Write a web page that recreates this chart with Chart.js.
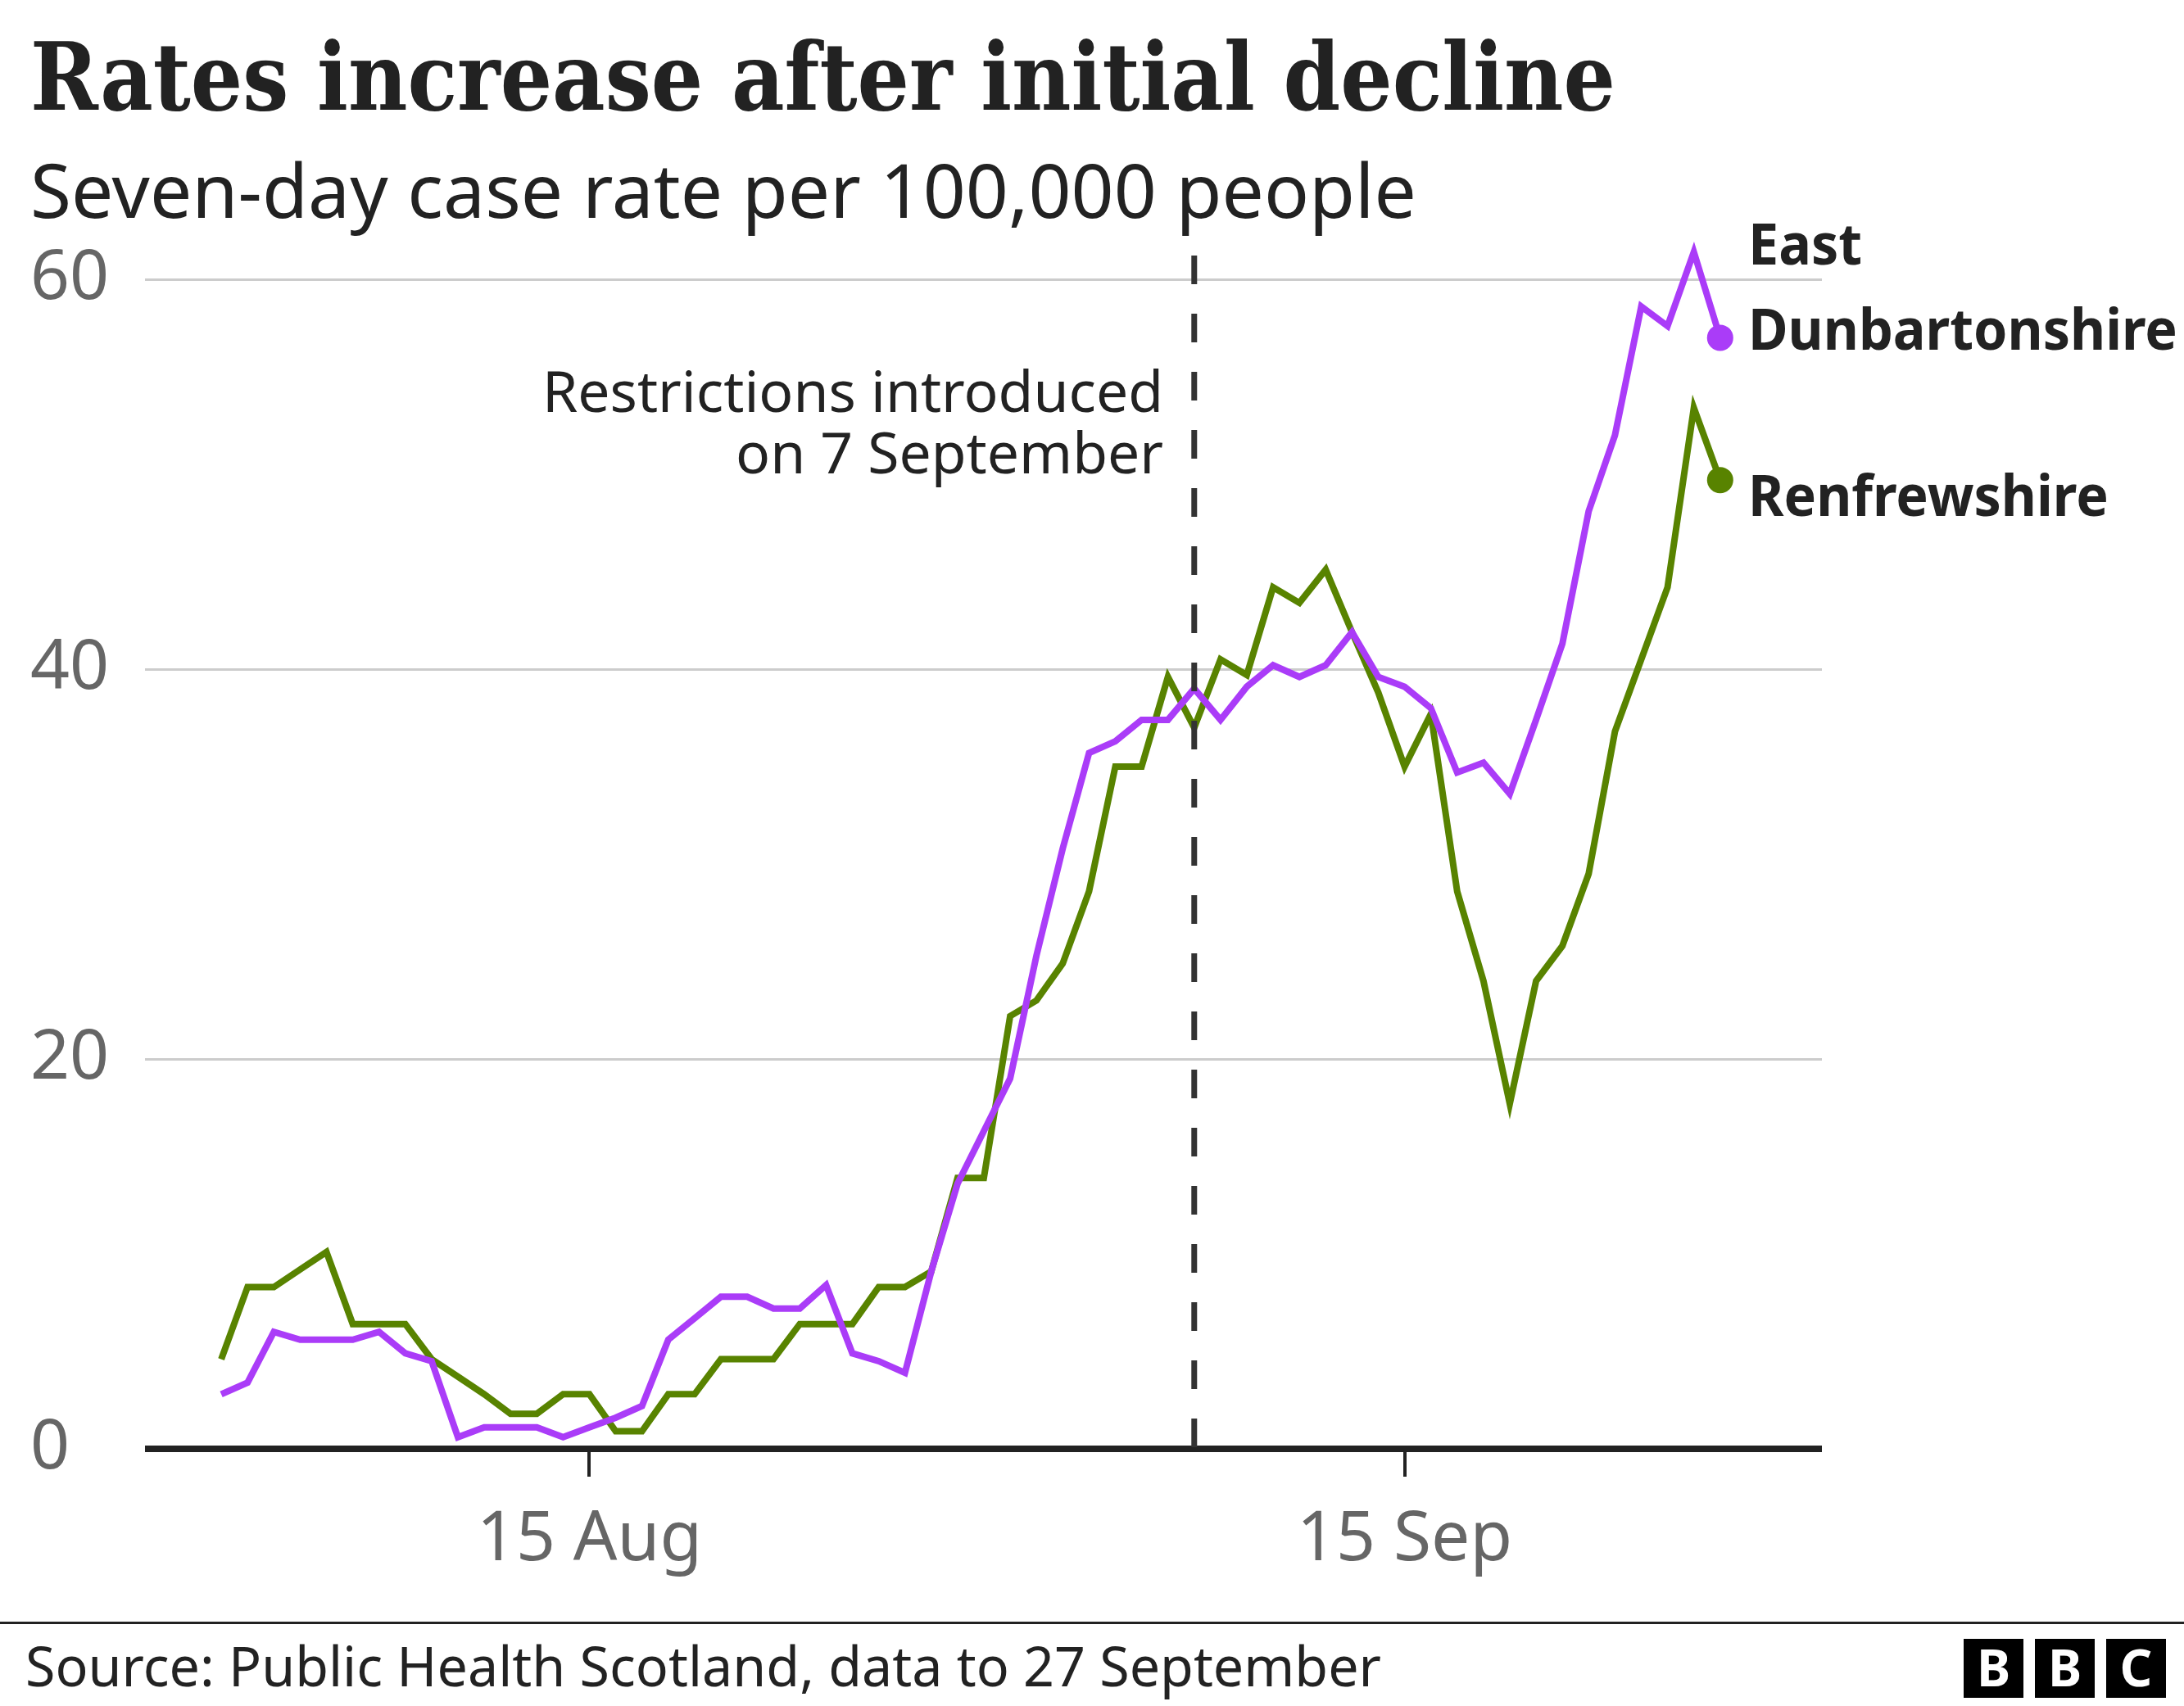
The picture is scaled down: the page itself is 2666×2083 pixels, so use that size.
<!DOCTYPE html>
<html>
<head>
<meta charset="utf-8">
<script src="https://cdn.jsdelivr.net/npm/chart.js@4.4.1/dist/chart.umd.min.js"></script>
<style>
html,body{margin:0;padding:0;background:#ffffff;}
#wrap{width:2666px;height:2083px;position:relative;}
canvas{display:block;}
</style>
</head>
<body>
<div id="wrap"><canvas id="c" width="2666" height="2083"></canvas></div>
<script>
// ---------- DATA ----------
const dates = [
  '1 Aug','2 Aug','3 Aug','4 Aug','5 Aug','6 Aug','7 Aug','8 Aug','9 Aug','10 Aug',
  '11 Aug','12 Aug','13 Aug','14 Aug','15 Aug','16 Aug','17 Aug','18 Aug','19 Aug','20 Aug',
  '21 Aug','22 Aug','23 Aug','24 Aug','25 Aug','26 Aug','27 Aug','28 Aug','29 Aug','30 Aug',
  '31 Aug','1 Sep','2 Sep','3 Sep','4 Sep','5 Sep','6 Sep','7 Sep','8 Sep','9 Sep',
  '10 Sep','11 Sep','12 Sep','13 Sep','14 Sep','15 Sep','16 Sep','17 Sep','18 Sep','19 Sep',
  '20 Sep','21 Sep','22 Sep','23 Sep','24 Sep','25 Sep','26 Sep','27 Sep'
];
const eastDunbartonshire = [
  2.8, 3.4, 6.0, 5.6, 5.6, 5.6, 6.0, 4.9, 4.5, 0.6,
  1.1, 1.1, 1.1, 0.6, 1.1, 1.6, 2.2, 5.6, 6.7, 7.8,
  7.8, 7.2, 7.2, 8.4, 4.9, 4.5, 3.9, 9.1, 13.6, 16.3,
  19.0, 25.3, 30.8, 35.7, 36.3, 37.4, 37.4, 39.0, 37.4, 39.1,
  40.2, 39.6, 40.2, 41.9, 39.6, 39.1, 38.0, 34.7, 35.2, 33.6,
  37.4, 41.3, 48.1, 52.0, 58.6, 57.6, 61.4, 57.0
];
const renfrewshire = [
  4.6, 8.3, 8.3, 9.2, 10.1, 6.4, 6.4, 6.4, 4.6, 3.7,
  2.8, 1.8, 1.8, 2.8, 2.8, 0.9, 0.9, 2.8, 2.8, 4.6,
  4.6, 4.6, 6.4, 6.4, 6.4, 8.3, 8.3, 9.1, 13.9, 13.9,
  22.2, 23.0, 24.9, 28.6, 35.0, 35.0, 39.6, 37.0, 40.5, 39.7,
  44.2, 43.4, 45.1, 41.9, 38.8, 35.0, 37.7, 28.6, 24.0, 17.7,
  24.0, 25.8, 29.5, 36.8, 40.5, 44.2, 53.4, 49.7
];
const yTickValues = [0, 20, 40, 60];
const xTickLabels = ['15 Aug', '15 Sep'];
const restrictionDate = '7 Sep';
const seriesNames = ['East Dunbartonshire', 'Renfrewshire'];

// ---------- STYLE ----------
const PURPLE = '#aa3cf8';
const GREEN = '#588300';
const INK = '#222222';
const SANS = '"Noto Sans", "Open Sans", sans-serif';
const SERIF = '"DejaVu Serif", "Liberation Serif", serif';

function fitText(ctx, text, x, y, font, scaleX, color, align) {
  ctx.save();
  ctx.font = font;
  ctx.fillStyle = color;
  ctx.textBaseline = 'alphabetic';
  ctx.textAlign = align || 'left';
  ctx.translate(x, y);
  ctx.scale(scaleX, 1);
  ctx.fillText(text, 0, 0);
  ctx.restore();
}
function scaleFor(ctx, text, font, width) {
  ctx.save(); ctx.font = font;
  const w = ctx.measureText(text).width;
  ctx.restore();
  return width / w;
}

const restrictionPlugin = {
  id: 'restriction',
  afterDatasetsDraw(chart) {
    const {ctx, scales: {x}, chartArea} = chart;
    const px = x.getPixelForValue(dates.indexOf(restrictionDate));
    ctx.save();
    ctx.strokeStyle = '#333333';
    ctx.lineWidth = 7;
    ctx.setLineDash([35, 36]);
    ctx.beginPath();
    ctx.moveTo(px, 312);
    ctx.lineTo(px, chartArea.bottom);
    ctx.stroke();
    ctx.restore();
  }
};

const textPlugin = {
  id: 'texts',
  afterDraw(chart) {
    const ctx = chart.ctx;
    // Title
    const tFont = 'bold 114px ' + SERIF;
    fitText(ctx, 'Rates increase after initial decline', 37, 134, tFont,
      scaleFor(ctx, 'Rates increase after initial decline', tFont, 1935), INK);
    // Subtitle
    const sFont = '92px ' + SANS;
    fitText(ctx, 'Seven-day case rate per 100,000 people', 37, 266, sFont,
      scaleFor(ctx, 'Seven-day case rate per 100,000 people', sFont, 1692), INK);
    // Annotation
    const aFont = '70px ' + SANS;
    const aS = scaleFor(ctx, 'Restrictions introduced', aFont, 758);
    fitText(ctx, 'Restrictions introduced', 1420, 503, aFont, aS, INK, 'right');
    fitText(ctx, 'on 7 September', 1420, 578, aFont, aS, INK, 'right');
    // Series labels
    const lFont = 'bold 70px ' + SANS;
    const lS = scaleFor(ctx, 'Dunbartonshire', lFont, 524);
    fitText(ctx, 'East', 2134, 323, lFont, lS, INK);
    fitText(ctx, 'Dunbartonshire', 2134, 427, lFont, lS, INK);
    fitText(ctx, seriesNames[1], 2134, 630, lFont, lS, INK);
    // Footer rule
    ctx.save();
    ctx.fillStyle = INK;
    ctx.fillRect(0, 1980, 2666, 3);
    ctx.restore();
    // Source
    const srcFont = '67px ' + SANS;
    const src = 'Source: Public Health Scotland, data to 27 September';
    fitText(ctx, src, 31, 2059, srcFont, scaleFor(ctx, src, srcFont, 1655), INK);
    // BBC logo
    const bx = [2397, 2484, 2571];
    const letters = ['B', 'B', 'C'];
    ctx.save();
    for (let k = 0; k < 3; k++) {
      ctx.fillStyle = '#000000';
      ctx.fillRect(bx[k], 2001, 73, 72);
      ctx.fillStyle = '#ffffff';
      ctx.font = 'bold 62px ' + SANS;
      ctx.textAlign = 'center';
      ctx.textBaseline = 'alphabetic';
      ctx.fillText(letters[k], bx[k] + 36.5, 2059);
    }
    ctx.restore();
  }
};

const lastIdx = dates.length - 1;
function series(values) {
  return values.map((v, i) => ({x: i, y: v}));
}

Chart.defaults.font.family = SANS;

new Chart(document.getElementById('c'), {
  type: 'line',
  data: {
    datasets: [
      {
        label: seriesNames[0],
        data: series(eastDunbartonshire),
        borderColor: PURPLE,
        backgroundColor: PURPLE,
        borderWidth: 8,
        tension: 0,
        clip: false,
        pointRadius: (c) => c.dataIndex === lastIdx ? 16 : 0,
        pointHoverRadius: 0,
        pointBorderWidth: 0,
        order: 1
      },
      {
        label: seriesNames[1],
        data: series(renfrewshire),
        borderColor: GREEN,
        backgroundColor: GREEN,
        borderWidth: 8,
        tension: 0,
        clip: false,
        pointRadius: (c) => c.dataIndex === lastIdx ? 16 : 0,
        pointHoverRadius: 0,
        pointBorderWidth: 0,
        order: 2
      }
    ]
  },
  options: {
    responsive: false,
    animation: false,
    devicePixelRatio: 1,
    events: [],
    layout: { padding: { top: 341, left: 37, right: 442, bottom: 114 } },
    plugins: { legend: { display: false }, tooltip: { enabled: false }, title: { display: false } },
    scales: {
      x: {
        type: 'linear',
        min: -2.9,
        max: 60.87,
        afterBuildTicks: (s) => { s.ticks = xTickLabels.map(l => ({ value: dates.indexOf(l) })); },
        afterFit: (s) => { s.height = 200; },
        border: { display: false },
        grid: { drawOnChartArea: false, drawTicks: true, tickLength: 34, color: INK, lineWidth: 4 },
        ticks: {
          autoSkip: false, maxRotation: 0, padding: 28,
          color: '#666666',
          font: { family: SANS, size: 84 },
          callback: (v) => dates[v]
        }
      },
      y: {
        min: 0,
        max: 60,
        afterBuildTicks: (s) => { s.ticks = yTickValues.map(v => ({ value: v })); },
        afterFit: (s) => { s.width = 140; },
        border: { display: false },
        grid: {
          drawTicks: false,
          color: (c) => c.tick && c.tick.value === 0 ? INK : '#cccccc',
          lineWidth: (c) => c.tick && c.tick.value === 0 ? 8 : 3
        },
        ticks: {
          crossAlign: 'far', padding: 0,
          color: '#666666',
          font: { family: SANS, size: 84 },
          callback: (v) => String(v)
        }
      }
    }
  },
  plugins: [restrictionPlugin, textPlugin]
});
</script>
</body>
</html>
